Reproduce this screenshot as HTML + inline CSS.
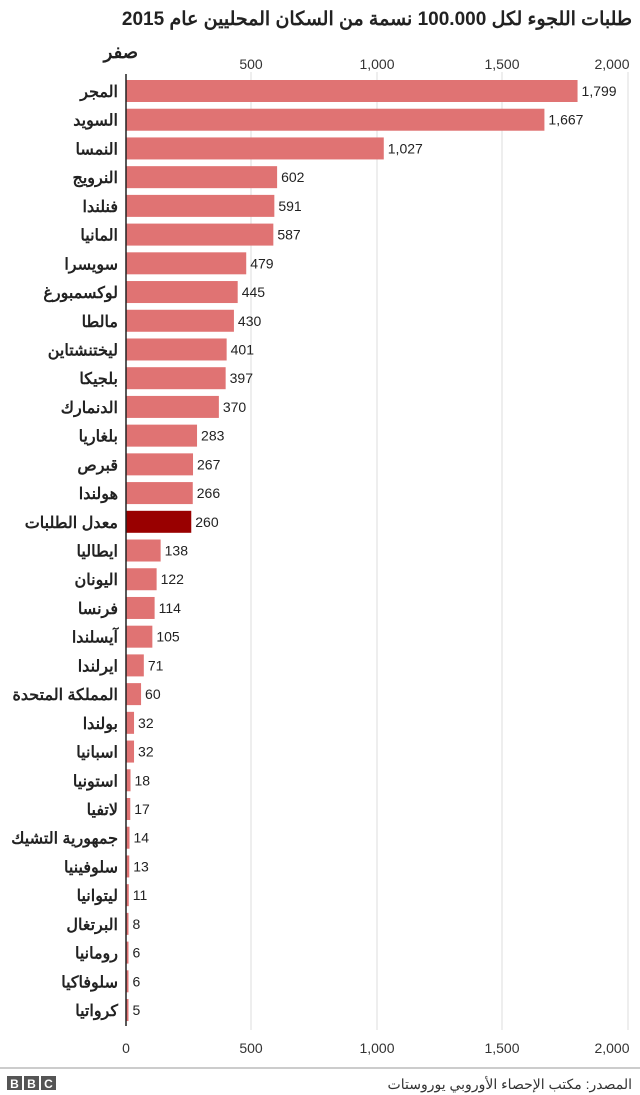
<!DOCTYPE html>
<html><head><meta charset="utf-8"><style>
body{margin:0;width:640px;height:1095px;background:#fff;font-family:"Liberation Sans","Noto Sans CJK SC",sans-serif;position:relative;overflow:hidden}
.t{position:absolute;white-space:nowrap}
</style></head><body>
<div class="t" style="right:8px;top:8px;font-size:19px;font-weight:bold;color:#222;direction:rtl">طلبات اللجوء لكل 100.000 نسمة من السكان المحليين عام 2015</div>
<svg width="640" height="1095" style="position:absolute;left:0;top:0" font-family="Liberation Sans, Noto Sans CJK SC, sans-serif">
<g stroke="#ddd" stroke-width="1">
<line x1="251" y1="72" x2="251" y2="1030"/><line x1="377" y1="72" x2="377" y2="1030"/><line x1="502" y1="72" x2="502" y2="1030"/><line x1="628" y1="72" x2="628" y2="1030"/>
</g>
<g font-size="14" fill="#333" text-anchor="middle">
<text x="251" y="69">500</text><text x="377" y="69">1,000</text><text x="502" y="69">1,500</text><text x="612" y="69">2,000</text>
<text x="126" y="1053">0</text><text x="251" y="1053">500</text><text x="377" y="1053">1,000</text><text x="502" y="1053">1,500</text><text x="612" y="1053">2,000</text>
</g>
<text x="138" y="58" font-size="18" font-weight="bold" fill="#222" text-anchor="end">صفر</text>
<g id="bars"></g>
<line x1="126" y1="74" x2="126" y2="1026" stroke="#222" stroke-width="1.5"/>
<line x1="0" y1="1068" x2="640" y2="1068" stroke="#999" stroke-width="1"/>
<g fill="#555"><rect x="7" y="1076" width="15" height="14"/><rect x="24" y="1076" width="15" height="14"/><rect x="41" y="1076" width="15" height="14"/></g>
<g fill="#fff" font-size="12" font-weight="bold" text-anchor="middle"><text x="14.5" y="1088">B</text><text x="31.5" y="1088">B</text><text x="48.5" y="1088">C</text></g>
<text x="632" y="1089" font-size="14" fill="#333" text-anchor="end">المصدر: مكتب الإحصاء الأوروبي يوروستات</text>
</svg>
<script>
var d=[["المجر",1799],["السويد",1667],["النمسا",1027],["النرويج",602],["فنلندا",591],["المانيا",587],["سويسرا",479],["لوكسمبورغ",445],["مالطا",430],["ليختنشتاين",401],["بلجيكا",397],["الدنمارك",370],["بلغاريا",283],["قبرص",267],["هولندا",266],["معدل الطلبات",260],["ايطاليا",138],["اليونان",122],["فرنسا",114],["آيسلندا",105],["ايرلندا",71],["المملكة المتحدة",60],["بولندا",32],["اسبانيا",32],["استونيا",18],["لاتفيا",17],["جمهورية التشيك",14],["سلوفينيا",13],["ليتوانيا",11],["البرتغال",8],["رومانيا",6],["سلوفاكيا",6],["كرواتيا",5]];
var s="";
d.forEach(function(r,i){var y=80+i*28.72,w=Math.max(r[1]*0.251,2.5),c=i==15?"#990000":"#e07373";
s+='<rect x="126" y="'+y+'" width="'+w+'" height="22" fill="'+c+'"/>';
s+='<text x="'+(126+w+4)+'" y="'+(y+16)+'" font-size="14" fill="#222">'+r[1].toLocaleString("en-US")+'</text>';
s+='<text x="118" y="'+(y+17)+'" font-size="16" font-weight="bold" fill="#222" text-anchor="end">'+r[0]+'</text>';});
document.getElementById("bars").innerHTML=s;
</script>
</body></html>
